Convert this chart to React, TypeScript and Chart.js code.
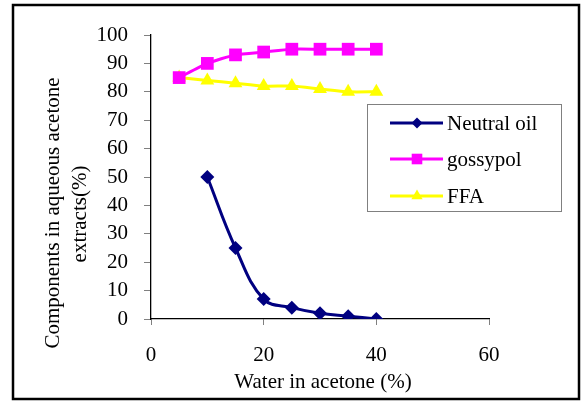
import React, { useEffect, useRef } from "react";
import { Chart, registerables } from "chart.js";

Chart.register(...registerables);

const waterX = [5, 10, 15, 20, 25, 30, 35, 40];
const neutralX = [10, 15, 20, 25, 30, 35, 40];
const neutralOil = [50, 25, 7, 4, 2, 1, 0];
const gossypol = [85, 90, 93, 94, 95, 95, 95, 95];
const ffa = [85, 84, 83, 82, 82, 81, 80, 80];
const seriesNames = ["Neutral oil", "gossypol", "FFA"];
const seriesColors = ["#000080", "#FF00FF", "#FFFF00"];
const seriesMarkers = ["rectRot", "rect", "triangle"];
const markerRadius = [7, 9, 8];
const yTitle = ["Components in aqueous acetone", "extracts(%)"];
const xTitle = "Water in acetone (%)";

const FONT = "'Liberation Serif', 'Times New Roman', serif";
const FS = 21;

const decorPlugin = {
  id: "decor",
  afterDraw(chart: any) {
    const ctx = chart.ctx;
    ctx.save();
    // outer frame
    ctx.strokeStyle = "#000";
    ctx.lineWidth = 2.5;
    ctx.strokeRect(13, 5, 566, 394);

    // axis titles
    ctx.fillStyle = "#000";
    ctx.font = `${FS}px ${FONT}`;
    ctx.textAlign = "center";
    ctx.textBaseline = "alphabetic";
    ctx.fillText(xTitle, 323, 388);
    ctx.save();
    ctx.translate(59, 213);
    ctx.rotate(-Math.PI / 2);
    ctx.fillText(yTitle[0], 0, 0);
    ctx.restore();
    ctx.save();
    ctx.translate(86, 214);
    ctx.rotate(-Math.PI / 2);
    ctx.fillText(yTitle[1], 0, 0);
    ctx.restore();

    // legend box
    const lx = 367, ly = 104, lw = 194, lh = 107;
    ctx.fillStyle = "#fff";
    ctx.fillRect(lx, ly, lw, lh);
    ctx.strokeStyle = "#808080";
    ctx.lineWidth = 1;
    ctx.strokeRect(lx + 0.5, ly + 0.5, lw, lh);
    const rows = [123, 159, 196];
    ctx.font = `${FS}px ${FONT}`;
    ctx.textBaseline = "middle";
    ctx.textAlign = "left";
    for (let i = 0; i < 3; i++) {
      const y = rows[i];
      ctx.strokeStyle = seriesColors[i];
      ctx.lineWidth = 3;
      ctx.beginPath();
      ctx.moveTo(390, y);
      ctx.lineTo(443, y);
      ctx.stroke();
      ctx.fillStyle = seriesColors[i];
      ctx.beginPath();
      const r = markerRadius[i] - 1.5;
      if (i === 0) {
        ctx.moveTo(417, y - r);
        ctx.lineTo(417 + r, y);
        ctx.lineTo(417, y + r);
        ctx.lineTo(417 - r, y);
        ctx.closePath();
      } else if (i === 1) {
        const s = r * Math.SQRT1_2;
        ctx.rect(417 - s, y - s, 2 * s, 2 * s);
      } else {
        for (let k = 0; k < 3; k++) {
          const a = (k * 2 * Math.PI) / 3;
          const px = 417 + Math.sin(a) * r;
          const py = y - Math.cos(a) * r;
          if (k === 0) ctx.moveTo(px, py);
          else ctx.lineTo(px, py);
        }
        ctx.closePath();
      }
      ctx.fill();
      ctx.fillStyle = "#000";
      ctx.fillText(seriesNames[i], 447, y + 1);
    }
    ctx.restore();
  },
};

export default function App() {
  const ref = useRef<HTMLCanvasElement>(null);
  useEffect(() => {
    if (!ref.current) return;
    const mk = (i: number, xs: number[], ys: number[], tension: number) => ({
      label: seriesNames[i],
      data: xs.map((x, k) => ({ x, y: ys[k] })),
      borderColor: seriesColors[i],
      backgroundColor: seriesColors[i],
      borderWidth: 3,
      pointStyle: seriesMarkers[i],
      pointRadius: markerRadius[i],
      pointBorderWidth: 0,
      tension,
    });
    const chart = new Chart(ref.current, {
      type: "line",
      data: {
        datasets: [
          mk(0, neutralX, neutralOil, 0.4),
          mk(1, waterX, gossypol, 0.2),
          mk(2, waterX, ffa, 0.2),
        ] as any,
      },
      options: {
        animation: false,
        responsive: false,
        devicePixelRatio: 1,
        layout: { padding: { left: 0, top: 35, right: 95, bottom: 0 } },
        plugins: { legend: { display: false }, tooltip: { enabled: false } },
        scales: {
          x: {
            type: "linear",
            min: 0,
            max: 60,
            ticks: {
              stepSize: 20,
              color: "#000",
              font: { family: FONT, size: FS },
              padding: 18,
              maxRotation: 0,
            },
            grid: { drawOnChartArea: false, drawTicks: true, tickLength: 6, tickColor: "#808080" },
            border: { color: "#000", width: 1.3 },
            title: { display: false, text: xTitle },
            afterFit(scale: any) {
              scale.height = 84;
            },
          },
          y: {
            min: 0,
            max: 100,
            ticks: {
              stepSize: 10,
              color: "#000",
              font: { family: FONT, size: FS },
              padding: 16,
            },
            grid: { drawOnChartArea: false, drawTicks: true, tickLength: 7, tickColor: "#808080" },
            border: { color: "#000", width: 1.3 },
            title: { display: false, text: yTitle },
            afterFit(scale: any) {
              scale.width = 151;
            },
          },
        },
      } as any,
      plugins: [decorPlugin],
    });
    return () => chart.destroy();
  }, []);
  return (
    <div style={{ position: "absolute", left: 0, top: 0, width: 584, height: 403, background: "#fff" }}>
      <canvas ref={ref} width={584} height={403} style={{ display: "block" }} />
    </div>
  );
}
